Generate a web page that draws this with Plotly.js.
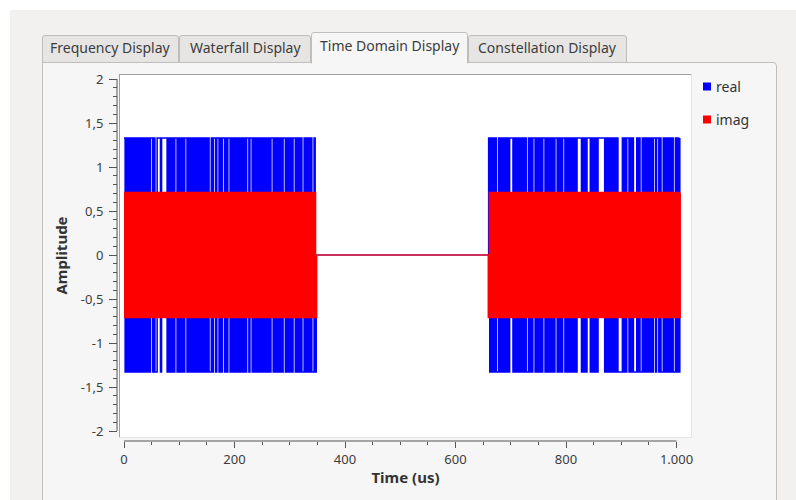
<!DOCTYPE html>
<html><head><meta charset="utf-8">
<script src="https://cdn.plot.ly/plotly-3.0.1.min.js"></script>
<style>html,body{margin:0;padding:0;background:#fff;}#chart{width:796px;height:500px;}</style>
</head><body><div id="chart"></div>
<script>
// ---- data ----
const tabLabels = ['Frequency Display', 'Waterfall Display', 'Time Domain Display', 'Constellation Display'];
const seriesNames = ['real', 'imag'];
const burstStarts = [0, 660];      // us
const sampleStep = 2;              // us
const gapZero = [348, 658];        // us, both series at 0
const realLevel = 1.33;
const imagLevel = 0.707;
// sign of every sample (+ / -) for each burst
const realBurst1 = "+-+-+-+-+-" + "+-+-+-+-+-" + "+-+-++-+--" + "+++-+++++-" + "+-+-+-++-+" + "-+-+-++-+-" + "+-+-+-+-+-" + "+-+-+-+--+" + "-++-++-+-+" + "+-+-++-+-+" + "-+-+-+-+-+" + "-++-++-+-+" + "-+-+-+-+-+" + "-+-++-+-+-" + "+-+-++-+-+" + "-+-++-+-+-" + "+--+-+-+-+" + "--+-";
const realBurst2 = "+-+-+-+--+" + "-+-+-+-+-+" + "++-+-+-+-+" + "-+-+--+-+-" + "++-+-+-+-+" + "+-+-+-+-+-" + "++-+-+-++-" + "+-+-+-+-+-" + "++++-+-+-+" + "++-+-+-+-+" + "+++++-+-+-" + "+-+-+-+---" + "-+-+-++-+-" + "+---+-+--+" + "-+-+-+-+-+" + "+-++-+--+-" + "+-+-+-+--+" + "-+-+";
const imagBurst1 = "+-+-+-+-+-" + "+-+-+-+-+-" + "+-+-+-+-+-" + "+-+-+-+-+-" + "+-+-+-+-+-" + "+-+-+-+-+-" + "+-+-+-+-+-" + "+-+-+-+-+-" + "+-+-+-+-+-" + "+-+-+-+-+-" + "+-+-+-+-+-" + "+-+-+-+-+-" + "+-+-+-+-+-" + "+-+-+-+-+-" + "+-+-+-+-+-" + "+-+-+-+-+-" + "+-+-+-+-+-" + "+-+-";
const imagBurst2 = "-+-+-+-+-+" + "-+-+-+-+-+" + "-+-+-+-+-+" + "-+-+-+-+-+" + "-+-+-+-+-+" + "-+-+-+-+-+" + "-+-+-+-+-+" + "-+-+-+-+-+" + "-+-+-+-+-+" + "-+-+-+-+-+" + "-+-+-+-+-+" + "-+-+-+-+-+" + "-+-+-+-+-+" + "-+-+-+-+-+" + "-+-+-+-+-+" + "-+-+-+-+-+" + "-+-+-+-+-+" + "-+-+";
const yTickVals = [-2, -1.5, -1, -0.5, 0, 0.5, 1, 1.5, 2];
const yTickText = ['-2', '-1,5', '-1', '-0,5', '0', '0,5', '1', '1,5', '2'];
const xTickVals = [0, 200, 400, 600, 800, 1000];
const xTickText = ['0', '200', '400', '600', '800', '1.000'];
const xTitle = 'Time (us)';
const yTitle = 'Amplitude';

// ---- build series ----
function decode(s, level) { return s.split('').map(c => c === '+' ? level : -level); }
function times(start, n) { const t = []; for (let i = 0; i < n; i++) t.push(start + sampleStep * i); return t; }
function series(b1, b2, level) {
  const y1 = decode(b1, level), y2 = decode(b2, level);
  return {
    x: times(burstStarts[0], y1.length).concat(gapZero, times(burstStarts[1], y2.length)),
    y: y1.concat([0, 0], y2)
  };
}
const realS = series(realBurst1, realBurst2, realLevel);
const imagS = series(imagBurst1, imagBurst2, imagLevel);

const colors = ['#0000ff', '#ff0000'];
const traces = [
  {x: realS.x, y: realS.y, type: 'scatter', mode: 'lines', name: seriesNames[0], line: {color: colors[0], width: 1.5, shape: 'hv', simplify: false}},
  {x: imagS.x, y: imagS.y, type: 'scatter', mode: 'lines', name: seriesNames[1], line: {color: colors[1], width: 2.2, shape: 'hv', simplify: false}},
  {x: gapZero, y: [0, 0], type: 'scatter', mode: 'lines', showlegend: false, line: {color: '#b8407e', width: 1.6}}
];

// ---- geometry (pixels -> paper) ----
const L = 117, B = 441, R = 691, T = 74;
const W = R - L, H = B - T;
const fx = px => (px - L) / W;
const fy = py => (B - py) / H;
const P = (x, y) => fx(x).toFixed(5) + ',' + fy(y).toFixed(5);
const shapes = [];
function rect(x0, y0, x1, y1, fill, lc, lw) {
  shapes.push({type: 'rect', xref: 'paper', yref: 'paper', x0: fx(x0), x1: fx(x1), y0: fy(y1), y1: fy(y0),
    fillcolor: fill, line: {color: lc || fill, width: lw || 0}, layer: 'below'});
}
function path(d, fill, lc, lw) {
  shapes.push({type: 'path', xref: 'paper', yref: 'paper', path: d, fillcolor: fill, line: {color: lc, width: lw}, layer: 'below'});
}
function hline(x0, x1, y, c, w) { shapes.push({type: 'line', xref: 'paper', yref: 'paper', x0: fx(x0), x1: fx(x1), y0: fy(y), y1: fy(y), line: {color: c, width: w || 1}, layer: 'below'}); }
function vline(x, y0, y1, c, w) { shapes.push({type: 'line', xref: 'paper', yref: 'paper', x0: fx(x), x1: fx(x), y0: fy(y0), y1: fy(y1), line: {color: c, width: w || 1}, layer: 'below'}); }

// window background
rect(10, 10, 800, 505, '#f2f1f0');
// tab edges
const tabEdges = [42, 179, 311, 468, 627];
const selected = 2;
for (let i = 0; i < 4; i++) {
  if (i === selected) continue;
  const a = tabEdges[i] + 0.5, b = tabEdges[i + 1] - 0.5;
  path('M' + P(a, 62.5) + ' L' + P(a, 38) + ' Q' + P(a, 35.5) + ' ' + P(a + 2.5, 35.5) + ' L' + P(b - 2.5, 35.5) +
       ' Q' + P(b, 35.5) + ' ' + P(b, 38) + ' L' + P(b, 62.5) + ' Z', '#e6e5e4', '#bdbcbb', 1);
}
// pane
path('M' + P(42.5, 506) + ' L' + P(42.5, 62.5) + ' L' + P(773, 62.5) + ' Q' + P(776.5, 62.5) + ' ' + P(776.5, 66) +
     ' L' + P(776.5, 506) + ' Z', '#f6f6f6', '#c0bfbe', 1);
// selected tab
{
  const a = tabEdges[selected] + 0.5, b = tabEdges[selected + 1] - 0.5;
  path('M' + P(a, 63.5) + ' L' + P(a, 35) + ' Q' + P(a, 32.5) + ' ' + P(a + 2.5, 32.5) + ' L' + P(b - 2.5, 32.5) +
       ' Q' + P(b, 32.5) + ' ' + P(b, 35) + ' L' + P(b, 63.5), '#f6f6f6', '#c0bfbe', 1);
}
// canvas
rect(120, 74, 691, 437, '#ffffff');
hline(119, 691, 74.5, '#a0a0a0', 1);
vline(119.5, 74, 437, '#a0a0a0', 1);
hline(119, 691, 437.5, '#e4e4e4', 1);
vline(691.5, 74, 438, '#e4e4e4', 1);
// axis backbones
shapes.push({type: 'line', xref: 'paper', yref: 'y', x0: 0, x1: 0, y0: yTickVals[0], y1: yTickVals[yTickVals.length - 1], line: {color: '#555', width: 1}});
shapes.push({type: 'line', xref: 'x', yref: 'paper', x0: xTickVals[0], x1: xTickVals[xTickVals.length - 1], y0: 0, y1: 0, line: {color: '#555', width: 1}});
// legend squares
const legY = [86.5, 119.5];
for (let i = 0; i < 2; i++) rect(703, legY[i] - 4, 711, legY[i] + 4, colors[i]);

const FONT = 'Noto Sans, sans-serif';
const annotations = [];
for (let i = 0; i < 4; i++) {
  annotations.push({xref: 'paper', yref: 'paper', x: fx((tabEdges[i] + tabEdges[i + 1]) / 2), y: fy(i === selected ? 46 : 47.5),
    text: tabLabels[i], showarrow: false, xanchor: 'center', yanchor: 'middle', font: {family: FONT, size: 14, color: '#3c3c3c'}});
}
for (let i = 0; i < 2; i++) {
  annotations.push({xref: 'paper', yref: 'paper', x: fx(714), y: fy(legY[i]), text: seriesNames[i], showarrow: false,
    xanchor: 'left', yanchor: 'middle', font: {family: FONT, size: 14, color: '#333'}});
}

const layout = {
  width: 796, height: 500,
  margin: {l: L, r: 796 - R, t: T, b: 500 - B, pad: 0},
  paper_bgcolor: '#ffffff', plot_bgcolor: '#ffffff',
  showlegend: false, hovermode: false,
  font: {family: FONT, size: 13, color: '#3c3c3c'},
  xaxis: {
    domain: [3 / W, 1], anchor: 'free', position: 0,
    range: [(120 - 124) / 0.5525, (691 - 124) / 0.5525],
    tickmode: 'array', tickvals: xTickVals, ticktext: xTickText,
    ticks: 'outside', ticklen: 6, tickcolor: '#555', tickwidth: 1,
    showgrid: false, zeroline: false, showline: false, automargin: false,
    tickfont: {family: FONT, size: 13, color: '#3c3c3c'},
    minor: {tickmode: 'linear', tick0: 0, dtick: 50, ticks: 'outside', ticklen: 3, tickcolor: '#555', showgrid: false},
    title: {text: xTitle, font: {family: FONT, size: 15, weight: 'bold', color: '#333'}, standoff: 5}
  },
  yaxis: {
    domain: [4 / H, 1], anchor: 'free', position: 0,
    range: [(255 - 437) / 88, (255 - 74) / 88],
    tickmode: 'array', tickvals: yTickVals, ticktext: yTickText,
    ticks: 'outside', ticklen: 8, tickcolor: '#555', tickwidth: 1, ticklabelstandoff: 3,
    showgrid: false, zeroline: false, showline: false, automargin: false,
    tickfont: {family: FONT, size: 13, color: '#3c3c3c'},
    minor: {tickmode: 'linear', tick0: 0, dtick: 0.1, ticks: 'outside', ticklen: 4, tickcolor: '#555', showgrid: false},
    title: {text: yTitle, font: {family: FONT, size: 15, weight: 'bold', color: '#333'}, standoff: 8}
  },
  shapes: shapes,
  annotations: annotations
};
Plotly.newPlot('chart', traces, layout, {staticPlot: true, displayModeBar: false});
</script></body></html>
